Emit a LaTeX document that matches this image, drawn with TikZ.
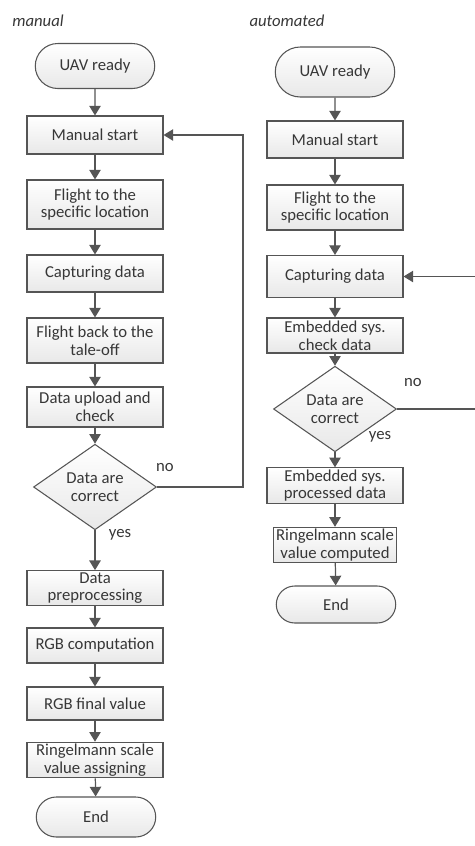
\documentclass[tikz,border=0pt]{standalone}
\usepackage{fontspec}
\setmainfont{Carlito}
\usepackage{tikz}
\usetikzlibrary{arrows.meta,shapes.geometric,shapes.misc}

\definecolor{linegray}{RGB}{85,85,85}
\definecolor{txtgray}{RGB}{55,55,55}

\tikzset{
  base/.style={draw=linegray, line width=0.6pt, top color=white, bottom color=gray!18,
    text=txtgray, font=\fontsize{9.5}{10}\selectfont, align=center, inner sep=1pt},
  proc/.style={base, rectangle, minimum width=2.72cm},
  term/.style={base, rounded rectangle, minimum width=2.46cm, minimum height=0.9cm},
  decide/.style={base, diamond, minimum width=2.46cm, minimum height=1.36cm, inner sep=0pt},
  arr/.style={draw=linegray, line width=0.7pt, -{Triangle[width=6.5pt,length=5.5pt]}},
  lbl/.style={text=txtgray, font=\fontsize{9.5}{10}\selectfont},
  title/.style={text=txtgray, font=\fontsize{9.5}{10}\selectfont\itshape}
}

\begin{document}
\begin{tikzpicture}[x=0.02cm, y=-0.02cm]

\useasboundingbox (0,0) rectangle (475,846);

% manual
\node[title] (tman) at (38,21) {manual};

\node[term] (uav1) at (95,66) {UAV ready};
\node[proc, minimum height=0.76cm] (ms1) at (95,135) {Manual start};
\node[proc, minimum height=0.98cm] (fl1) at (95,204.5) {Flight to the\\specific location};
\node[proc, minimum height=0.74cm] (cap1) at (95,273.5) {Capturing data};
\node[proc, minimum height=0.9cm] (fb1) at (95,340.5) {Flight back to the\\tale-off};
\node[proc, minimum height=0.8cm] (up1) at (95,407) {Data upload and\\check};
\node[decide] (d1) at (95,487) {Data are\\correct};
\node[proc, minimum height=0.68cm] (pre1) at (95,588) {Data\\preprocessing};
\node[proc, minimum height=0.7cm] (rgb1) at (95,645.5) {RGB computation};
\node[proc, minimum height=0.66cm] (fin1) at (95,703.5) {RGB final value};
\node[proc, minimum height=0.68cm] (ring1) at (95,760) {Ringelmann scale\\value assigning};
\node[term, minimum height=0.8cm] (end1) at (96,817) {End};

\node[lbl] (no1) at (165,468) {no};
\node[lbl] (yes1) at (120,535) {yes};

\draw[arr] (uav1) -- (ms1);
\draw[arr] (ms1) -- (fl1);
\draw[arr] (fl1) -- (cap1);
\draw[arr] (cap1) -- (fb1);
\draw[arr] (fb1) -- (up1);
\draw[arr] (up1) -- (d1);
\draw[arr] (d1) -- (pre1);
\draw[arr] (pre1) -- (rgb1);
\draw[arr] (rgb1) -- (fin1);
\draw[arr] (fin1) -- (ring1);
\draw[arr] (ring1) -- (end1);

\coordinate (back1) at (243,487);
\draw[arr] (d1.east) -- (back1) |- (ms1.east);

% automated
\node[title] (taut) at (287,21) {automated};

\node[term, minimum height=1cm] (uav2) at (335,72) {UAV ready};
\node[proc, minimum height=0.74cm] (ms2) at (335,139.5) {Manual start};
\node[proc, minimum height=0.9cm] (fl2) at (335,207.5) {Flight to the\\specific location};
\node[proc, minimum height=0.84cm] (cap2) at (335,276.5) {Capturing data};
\node[proc, minimum height=0.7cm] (chk2) at (335,335.5) {Embedded sys.\\check data};
\node[decide] (d2) at (335,409) {Data are\\correct};
\node[proc, minimum height=0.7cm] (proc2) at (335,485.5) {Embedded sys.\\processed data};
\node[proc, minimum width=2.46cm, minimum height=0.68cm] (ring2) at (335,545) {Ringelmann scale\\value computed};
\node[term, minimum height=0.74cm] (end2) at (336,604.5) {End};

\node[lbl] (no2) at (413,383) {no};
\node[lbl] (yes2) at (380,437) {yes};

\draw[arr] (uav2) -- (ms2);
\draw[arr] (ms2) -- (fl2);
\draw[arr] (fl2) -- (cap2);
\draw[arr] (cap2) -- (chk2);
\draw[arr] (chk2) -- (d2);
\draw[arr] (d2) -- (proc2);
\draw[arr] (proc2) -- (ring2);
\draw[arr] (ring2) -- (end2);

\coordinate (back2) at (478,409);
\draw[arr] (d2.east) -- (back2) |- (cap2.east);

\end{tikzpicture}
\end{document}
